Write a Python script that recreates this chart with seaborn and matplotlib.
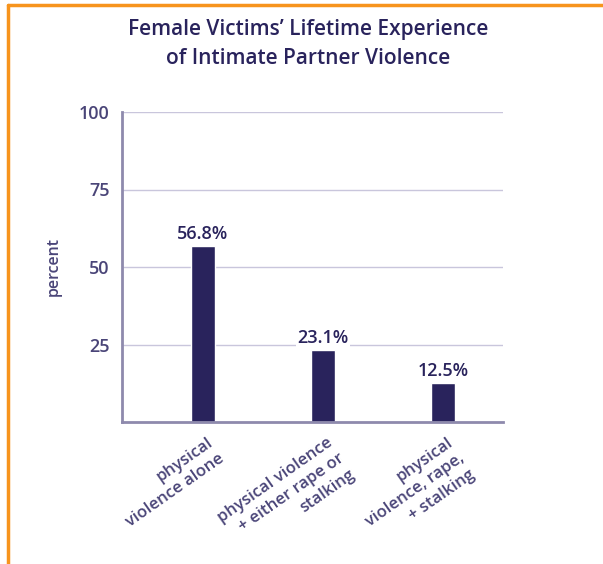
import matplotlib
matplotlib.use("Agg")
import matplotlib.pyplot as plt
import seaborn as sns
import pandas as pd
from matplotlib.lines import Line2D

categories = ["physical\nviolence alone",
              "physical violence\n+ either rape or\nstalking",
              "physical\nviolence, rape,\n+ stalking"]
values = [56.8, 23.1, 12.5]
value_labels = ["56.8%", "23.1%", "12.5%"]
yticks = [25, 50, 75, 100]
title = "Female Victims\u2019 Lifetime Experience\nof Intimate Partner Violence"

df = pd.DataFrame({"cat": categories, "val": values})

sns.set_theme(style="white")
plt.rcParams['font.family'] = ['Open Sans', 'DejaVu Sans']

navy = "#29235c"
txt = "#4a4578"
spine = "#8e8aad"
grid = "#c9c6dc"
orange = "#f7941d"
fw = "semibold"

fig = plt.figure(figsize=(6.03, 5.64), dpi=100)
W, H = 603, 564
ax = fig.add_axes([122 / W, 1 - 422 / H, (503 - 122) / W, (422 - 112) / H])

sns.barplot(data=df, x="cat", y="val", color=navy, width=0.2, ax=ax,
            saturation=1, zorder=3)
ax.set_ylim(0, 100)
ax.set_xlim(-0.675, 2.5)
ax.set_yticks(yticks)
ax.set_yticklabels([str(t) for t in yticks], fontsize=13, color=txt, fontweight=fw)
ax.yaxis.grid(True, color=grid, linewidth=1, zorder=0)
ax.tick_params(axis="y", length=0, pad=9)

ax.set_xticks([0.5, 1.5], minor=True)
ax.set_xticks([0, 1, 2])
ax.set_xticklabels([])
ax.tick_params(axis="x", which="major", length=0)
ax.tick_params(axis="x", which="minor", length=6, width=1.2, color=grid, direction="out")

for s in ["top", "right"]:
    ax.spines[s].set_visible(False)
for s in ["left", "bottom"]:
    ax.spines[s].set_color(spine)
    ax.spines[s].set_linewidth(2)
    ax.spines[s].set_zorder(4)

ax.set_xlabel("")
ax.set_ylabel("percent", fontsize=11.5, color=txt, labelpad=12, fontweight=fw)

for i, (v, lab) in enumerate(zip(values, value_labels)):
    ax.text(i, v + 1.0, lab, ha="center", va="bottom", fontsize=13, color=navy,
            fontweight=fw, zorder=5,
            bbox=dict(facecolor="white", edgecolor="none", pad=1.0))

for i, lab in enumerate(categories):
    ax.text(i + 0.03, -4.0, lab, ha="right", va="top", rotation=35,
            rotation_mode="anchor", multialignment="right",
            fontsize=12, color=txt, linespacing=1.3, fontweight=fw)

fig.text(308 / W, 1 - 44 / H, title, ha="center", va="center", fontsize=15,
         color=navy, linespacing=1.45, fontweight=fw)

fig.add_artist(Line2D([8 / W, 8 / W], [0, 1 - 5 / H], transform=fig.transFigure,
                      color=orange, linewidth=2.5))
fig.add_artist(Line2D([8 / W, 1], [1 - 5 / H, 1 - 5 / H], transform=fig.transFigure,
                      color=orange, linewidth=2.5))

fig.savefig("out.png", dpi=100, facecolor="white")
